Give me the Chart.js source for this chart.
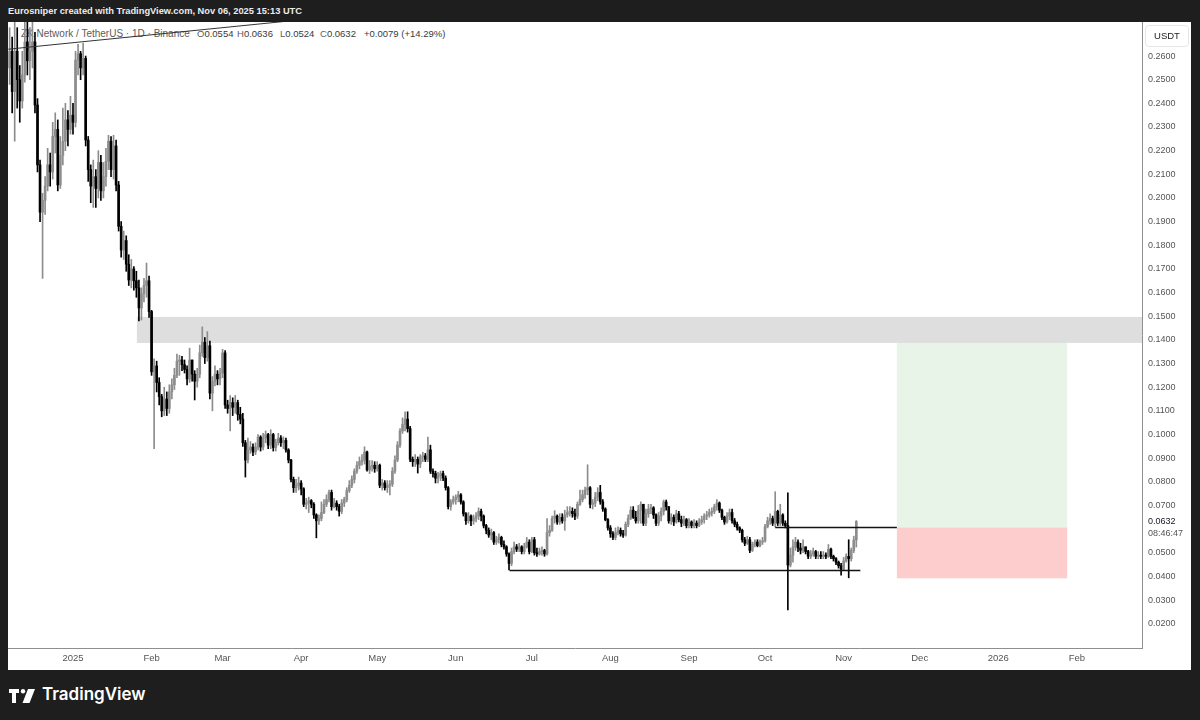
<!DOCTYPE html>
<html>
<head>
<meta charset="utf-8">
<script src="https://cdn.jsdelivr.net/npm/chart.js@4.4.1/dist/chart.umd.min.js"></script>
<style>
  html, body { margin: 0; padding: 0; width: 1200px; height: 720px; overflow: hidden; background: #1e1e1e; font-family: "Liberation Sans", Arial, sans-serif; }
  #header { position: absolute; left: 8px; top: 6px; color: #ececec; font-size: 9.3px; font-weight: bold; white-space: nowrap; }
  #panel { position: absolute; left: 8px; top: 22px; width: 1183px; height: 648px; background: #fff; }
  #panel canvas { position: absolute; left: 0; top: 0; }
  .legend { position: absolute; top: 6px; font-size: 9.5px; color: #5d5d5d; white-space: nowrap; }
  .legend b { font-weight: normal; color: #3a3a3a; }
  #unit { position: absolute; left: 1137px; top: 3px; width: 42px; height: 20px; border: 1px solid #e6e6e6; border-radius: 4px; font-size: 9.5px; color: #222; text-align: center; line-height: 20px; }
  .last { position: absolute; left: 1140px; font-size: 9px; white-space: nowrap; }
  #footer { position: absolute; left: 42px; top: 684px; color: #fff; font-family: Inter, sans-serif; font-weight: 600; font-size: 17px; }
  #logo { position: absolute; left: 9px; top: 689px; }
</style>
</head>
<body>
<div id="header">Eurosniper created with TradingView.com, Nov 06, 2025 15:13 UTC</div>
<div id="panel">
  <div class="legend" style="left:13px;font-size:10px">ZK Network / TetherUS · 1D · Binance</div>
  <div class="legend" style="left:189px">O<b>0.0554</b></div>
  <div class="legend" style="left:229px">H<b>0.0636</b></div>
  <div class="legend" style="left:272px">L<b>0.0524</b></div>
  <div class="legend" style="left:312px">C<b>0.0632</b></div>
  <div class="legend" style="left:356px"><b>+0.0079 (+14.29%)</b></div>
  <canvas id="chart" width="1183" height="648"></canvas>
  <div id="unit">USDT</div>
  <div class="last" style="top:494px;color:#131722">0.0632</div>
  <div class="last" style="top:506px;color:#555">08:46:47</div>
</div>
<svg id="logo" width="26" height="14" viewBox="0 0 26 14">
  <path d="M0 0h10v4H7v10H3V4H0z" fill="#fff"/>
  <circle cx="14" cy="2.2" r="2.2" fill="#fff"/>
  <path d="M19 0h7l-5.5 14h-7z" fill="#fff"/>
</svg>
<div id="footer">TradingView</div>

<script>
// day index: 0 = 1 Jan 2025, one candle per day, first candle 7 Dec 2024
var firstDay = -25;
var firstOpen = 0.255;

var closes = [
  0.262, 0.245, 0.262, 0.250, 0.241, 0.252, 0.266, 0.258, 0.262, 0.266,
  0.2393, 0.214, 0.194, 0.199, 0.205, 0.214, 0.211, 0.226, 0.229, 0.2055,
  0.218, 0.224, 0.233, 0.229, 0.235, 0.232, 0.2583, 0.261, 0.255, 0.259,
  0.2245, 0.212, 0.205, 0.209, 0.204, 0.215, 0.203, 0.209, 0.2155, 0.224,
  0.212, 0.222, 0.2055, 0.188, 0.178, 0.182, 0.172, 0.1653, 0.170, 0.165,
  0.162, 0.1535, 0.1595, 0.163, 0.165, 0.152, 0.1265, 0.129, 0.122, 0.116,
  0.110, 0.115, 0.111, 0.118, 0.121, 0.125, 0.131, 0.1315, 0.1295, 0.1275,
  0.1235, 0.1315, 0.1255, 0.1225, 0.1255, 0.1345, 0.139, 0.1325, 0.1375, 0.1175,
  0.1225, 0.1255, 0.1235, 0.126, 0.1345, 0.1125, 0.111, 0.1135, 0.1115, 0.1135,
  0.1085, 0.1065, 0.0965, 0.0892, 0.0935, 0.0947, 0.0926, 0.0947, 0.0989, 0.0947,
  0.0985, 0.100, 0.0955, 0.100, 0.0945, 0.0965, 0.0985, 0.0965, 0.0975, 0.0935,
  0.0892, 0.081, 0.0775, 0.0785, 0.0795, 0.077, 0.0705, 0.071, 0.072, 0.0705,
  0.066, 0.0635, 0.0645, 0.067, 0.0705, 0.0725, 0.0755, 0.0695, 0.071, 0.0695,
  0.0675, 0.071, 0.0725, 0.0763, 0.0785, 0.081, 0.0845, 0.087, 0.0885, 0.0892,
  0.0926, 0.085, 0.0865, 0.087, 0.0855, 0.087, 0.0785, 0.0795, 0.0775, 0.0785,
  0.079, 0.0845, 0.0892, 0.0955, 0.1015, 0.1042, 0.1065, 0.1025, 0.0895, 0.0885,
  0.0895, 0.0875, 0.0905, 0.091, 0.0895, 0.0935, 0.0845, 0.0835, 0.0815, 0.0825,
  0.0835, 0.0815, 0.0775, 0.0695, 0.0715, 0.0725, 0.0735, 0.0745, 0.0715, 0.0665,
  0.0635, 0.0655, 0.0635, 0.0645, 0.0655, 0.0675, 0.0655, 0.0615, 0.0595, 0.0575,
  0.0585, 0.0545, 0.0555, 0.0565, 0.0535, 0.0525, 0.0495, 0.0455, 0.0505, 0.0525,
  0.0515, 0.0525, 0.0505, 0.0525, 0.0545, 0.0505, 0.0555, 0.050, 0.0495, 0.0505,
  0.051, 0.0495, 0.0585, 0.0595, 0.0645, 0.0655, 0.063, 0.065, 0.0635, 0.066,
  0.067, 0.0675, 0.0665, 0.0655, 0.0705, 0.0725, 0.0745, 0.0765, 0.0775, 0.0705,
  0.071, 0.0735, 0.0755, 0.0715, 0.0685, 0.064, 0.0605, 0.058, 0.0565, 0.0585,
  0.0595, 0.058, 0.0575, 0.062, 0.0645, 0.068, 0.065, 0.0635, 0.068, 0.0705,
  0.0625, 0.0665, 0.0685, 0.069, 0.066, 0.0625, 0.0655, 0.0675, 0.0715, 0.0695,
  0.0635, 0.065, 0.063, 0.0665, 0.064, 0.0625, 0.064, 0.0615, 0.063, 0.0615,
  0.0625, 0.0615, 0.063, 0.064, 0.0655, 0.066, 0.067, 0.0675, 0.0695, 0.071,
  0.068, 0.065, 0.063, 0.0655, 0.067, 0.0635, 0.062, 0.0605, 0.0595, 0.0555,
  0.054, 0.0555, 0.051, 0.0535, 0.0545, 0.053, 0.0545, 0.055, 0.061, 0.0635,
  0.0645, 0.0625, 0.0675, 0.0625, 0.066, 0.0625, 0.0615, 0.0448, 0.049, 0.0525,
  0.0545, 0.052, 0.051, 0.0525, 0.0505, 0.0485, 0.0495, 0.0505, 0.0485, 0.049,
  0.0485, 0.049, 0.0485, 0.0515, 0.0485, 0.0475, 0.046, 0.0445, 0.043, 0.0465,
  0.0485, 0.0475, 0.051, 0.0554, 0.0632
];

var highs = [
  0.272, 0.268, 0.275, 0.272, 0.256, 0.262, 0.276, 0.276, 0.272, 0.281,
  0.270, 0.242, 0.216, 0.202, 0.209, 0.221, 0.219, 0.232, 0.236, 0.233,
  0.226, 0.238, 0.240, 0.237, 0.243, 0.240, 0.262, 0.265, 0.262, 0.2655,
  0.260, 0.226, 0.214, 0.216, 0.212, 0.220, 0.218, 0.215, 0.221, 0.2265,
  0.226, 0.2265, 0.2245, 0.207, 0.190, 0.186, 0.184, 0.176, 0.174, 0.171,
  0.169, 0.1653, 0.162, 0.166, 0.1725, 0.167, 0.1525, 0.132, 0.131, 0.124,
  0.117, 0.120, 0.118, 0.121, 0.1235, 0.128, 0.134, 0.1335, 0.133, 0.1315,
  0.129, 0.1365, 0.1315, 0.127, 0.128, 0.1378, 0.1455, 0.141, 0.1435, 0.1395,
  0.1245, 0.129, 0.127, 0.128, 0.136, 0.1355, 0.1145, 0.1165, 0.1155, 0.1165,
  0.1145, 0.1115, 0.109, 0.0975, 0.0985, 0.097, 0.096, 0.0965, 0.100, 0.0995,
  0.1005, 0.1015, 0.1005, 0.102, 0.1005, 0.098, 0.1005, 0.0995, 0.099, 0.0985,
  0.094, 0.0895, 0.082, 0.081, 0.082, 0.0805, 0.0775, 0.073, 0.0735, 0.0725,
  0.0712, 0.0665, 0.066, 0.0715, 0.0725, 0.0745, 0.0765, 0.0765, 0.073, 0.072,
  0.0705, 0.0725, 0.0735, 0.0775, 0.0805, 0.0825, 0.0855, 0.0885, 0.0905, 0.0915,
  0.0948, 0.093, 0.089, 0.089, 0.0885, 0.0885, 0.0875, 0.081, 0.0805, 0.0805,
  0.0805, 0.086, 0.091, 0.097, 0.1025, 0.107, 0.1096, 0.1096, 0.1035, 0.0905,
  0.0915, 0.0905, 0.0915, 0.0925, 0.092, 0.0989, 0.0955, 0.0855, 0.0845, 0.084,
  0.0845, 0.0845, 0.0825, 0.078, 0.0725, 0.074, 0.0745, 0.076, 0.075, 0.072,
  0.067, 0.067, 0.066, 0.066, 0.067, 0.069, 0.0685, 0.066, 0.062, 0.0605,
  0.060, 0.059, 0.057, 0.058, 0.057, 0.055, 0.053, 0.050, 0.052, 0.0545,
  0.0535, 0.054, 0.053, 0.054, 0.0565, 0.0555, 0.0565, 0.0565, 0.052, 0.052,
  0.0525, 0.0515, 0.0645, 0.0615, 0.0655, 0.0678, 0.066, 0.0665, 0.0665, 0.068,
  0.0695, 0.0695, 0.069, 0.0685, 0.0715, 0.0765, 0.0765, 0.0778, 0.0872, 0.078,
  0.0725, 0.0755, 0.0775, 0.0785, 0.0725, 0.069, 0.0645, 0.0615, 0.059, 0.0605,
  0.061, 0.0605, 0.0595, 0.063, 0.066, 0.0695, 0.0695, 0.0675, 0.070, 0.0715,
  0.0705, 0.0685, 0.0705, 0.0705, 0.0695, 0.0665, 0.067, 0.069, 0.0723, 0.0723,
  0.0695, 0.0665, 0.066, 0.068, 0.0675, 0.0655, 0.0655, 0.0645, 0.0645, 0.0635,
  0.064, 0.0635, 0.0645, 0.0655, 0.0665, 0.0675, 0.0685, 0.069, 0.0705, 0.0725,
  0.0715, 0.0685, 0.0655, 0.067, 0.0685, 0.0685, 0.0645, 0.063, 0.061, 0.060,
  0.0565, 0.057, 0.0565, 0.0545, 0.0555, 0.0555, 0.0555, 0.0565, 0.062, 0.065,
  0.0665, 0.0655, 0.0758, 0.068, 0.0705, 0.0665, 0.0635, 0.0753, 0.052, 0.0555,
  0.0565, 0.0555, 0.054, 0.0555, 0.0525, 0.051, 0.051, 0.052, 0.051, 0.0505,
  0.0505, 0.0505, 0.050, 0.0535, 0.052, 0.049, 0.048, 0.0465, 0.0455, 0.048,
  0.0495, 0.0555, 0.052, 0.057, 0.0636
];

var lows = [
  0.248, 0.236, 0.224, 0.238, 0.232, 0.238, 0.249, 0.252, 0.250, 0.255,
  0.236, 0.211, 0.190, 0.166, 0.193, 0.203, 0.205, 0.208, 0.219, 0.203,
  0.204, 0.214, 0.220, 0.222, 0.227, 0.227, 0.230, 0.252, 0.250, 0.252,
  0.222, 0.207, 0.198, 0.196, 0.196, 0.200, 0.199, 0.200, 0.205, 0.212,
  0.209, 0.208, 0.203, 0.186, 0.175, 0.174, 0.169, 0.163, 0.162, 0.161,
  0.158, 0.148, 0.1484, 0.156, 0.158, 0.1495, 0.125, 0.094, 0.118, 0.1125,
  0.1075, 0.108, 0.108, 0.109, 0.115, 0.119, 0.124, 0.125, 0.127, 0.126,
  0.121, 0.122, 0.1225, 0.1146, 0.120, 0.124, 0.133, 0.130, 0.131, 0.115,
  0.110, 0.1205, 0.121, 0.121, 0.124, 0.111, 0.109, 0.1015, 0.108, 0.109,
  0.106, 0.1045, 0.095, 0.082, 0.088, 0.092, 0.091, 0.0915, 0.0935, 0.093,
  0.0935, 0.0965, 0.094, 0.094, 0.093, 0.093, 0.0955, 0.095, 0.094, 0.0925,
  0.088, 0.080, 0.0755, 0.0755, 0.0765, 0.0745, 0.0695, 0.0685, 0.067, 0.069,
  0.0645, 0.0563, 0.062, 0.0635, 0.0665, 0.0695, 0.0715, 0.068, 0.069, 0.068,
  0.0655, 0.0665, 0.0695, 0.0715, 0.0755, 0.0775, 0.0795, 0.0835, 0.0855, 0.087,
  0.0875, 0.0845, 0.0835, 0.0845, 0.084, 0.0845, 0.0775, 0.0765, 0.0765, 0.0755,
  0.0745, 0.078, 0.0835, 0.0885, 0.0945, 0.1005, 0.1015, 0.101, 0.0885, 0.0865,
  0.0865, 0.0837, 0.086, 0.0885, 0.0885, 0.0885, 0.0835, 0.082, 0.0795, 0.0795,
  0.0805, 0.0805, 0.0765, 0.0685, 0.068, 0.0705, 0.0705, 0.0715, 0.0705, 0.0655,
  0.062, 0.0625, 0.0615, 0.062, 0.063, 0.064, 0.0635, 0.0605, 0.058, 0.0565,
  0.0555, 0.0535, 0.0535, 0.054, 0.0525, 0.0515, 0.0485, 0.0427, 0.0445, 0.0495,
  0.0505, 0.0505, 0.0495, 0.0495, 0.052, 0.0495, 0.050, 0.049, 0.0485, 0.049,
  0.049, 0.0485, 0.049, 0.057, 0.059, 0.0625, 0.062, 0.062, 0.0625, 0.0595,
  0.065, 0.0655, 0.065, 0.064, 0.0645, 0.070, 0.0715, 0.073, 0.0745, 0.069,
  0.0685, 0.0695, 0.072, 0.0705, 0.0675, 0.0635, 0.0595, 0.0565, 0.0555, 0.0555,
  0.0575, 0.057, 0.0565, 0.057, 0.061, 0.064, 0.0645, 0.0625, 0.0625, 0.0625,
  0.0615, 0.0615, 0.065, 0.0665, 0.0645, 0.0615, 0.0615, 0.0635, 0.066, 0.068,
  0.0625, 0.062, 0.0615, 0.0625, 0.063, 0.061, 0.0615, 0.0605, 0.0605, 0.0605,
  0.0605, 0.0605, 0.061, 0.062, 0.0625, 0.064, 0.065, 0.0655, 0.0665, 0.068,
  0.067, 0.064, 0.062, 0.0625, 0.064, 0.0625, 0.061, 0.0595, 0.0585, 0.0545,
  0.053, 0.0535, 0.050, 0.0505, 0.0525, 0.0525, 0.0525, 0.0535, 0.0545, 0.0605,
  0.062, 0.0615, 0.061, 0.0615, 0.0615, 0.0615, 0.0605, 0.0258, 0.044, 0.046,
  0.051, 0.0505, 0.0495, 0.050, 0.0495, 0.0475, 0.0475, 0.0485, 0.0475, 0.0475,
  0.0475, 0.0475, 0.0475, 0.048, 0.0475, 0.0465, 0.045, 0.0435, 0.0405, 0.0425,
  0.046, 0.0394, 0.0465, 0.050, 0.0524
];

var monthTickDays = [0, 31, 59, 90, 120, 151, 181, 212, 243, 273, 304, 334, 365, 396];
var monthTickLabels = ["2025", "Feb", "Mar", "Apr", "May", "Jun", "Jul", "Aug", "Sep", "Oct", "Nov", "Dec", "2026", "Feb"];
var priceTicks = [0.02, 0.03, 0.04, 0.05, 0.07, 0.08, 0.09, 0.10, 0.11, 0.12, 0.13, 0.14, 0.15,
                  0.16, 0.17, 0.18, 0.19, 0.20, 0.21, 0.22, 0.23, 0.24, 0.25, 0.26];

// drawings, in (day, price)
var supplyZone = [25.2, 0.1387, 0.1497];                 // start day, bottom, top
var longPosition = [325, 392.2, 0.0607, 0.1387, 0.0392]; // start, end, entry, target, stop
var entryLine = [277, 325, 0.0607];
var supportLine = [172.2, 310.6, 0.0427];
var trendLine = [-25.5, 0.2629, 86.8, 0.2750];

var upColor = "#8d8d8d";
var downColor = "#000000";

var bodies = [];
var wicks = [];
var colors = [];
closes.forEach(function (c, i) {
  var o = i === 0 ? firstOpen : closes[i - 1];
  var d = firstDay + i;
  bodies.push({ x: d, y: [o, c] });
  wicks.push({ x: d, y: [Math.min(lows[i], o, c), Math.max(highs[i], o, c)] });
  colors.push(c >= o ? upColor : downColor);
});

var drawings = {
  id: "drawings",
  beforeDatasetsDraw: function (chart) {
    var ctx = chart.ctx;
    var xs = chart.scales.x;
    var ys = chart.scales.y;
    var area = chart.chartArea;
    ctx.save();
    // grey zone, extended right
    var zx = xs.getPixelForValue(supplyZone[0]);
    ctx.fillStyle = "#dedede";
    ctx.fillRect(zx, ys.getPixelForValue(supplyZone[2]), area.right - zx,
      ys.getPixelForValue(supplyZone[1]) - ys.getPixelForValue(supplyZone[2]));
    // long position box
    var lx = xs.getPixelForValue(longPosition[0]);
    var lw = xs.getPixelForValue(longPosition[1]) - lx;
    var entryY = ys.getPixelForValue(longPosition[2]);
    var targetY = ys.getPixelForValue(longPosition[3]);
    var stopY = ys.getPixelForValue(longPosition[4]);
    ctx.fillStyle = "#e7f4e7";
    ctx.fillRect(lx, targetY, lw, entryY - targetY);
    ctx.fillStyle = "#fdcdcd";
    ctx.fillRect(lx, entryY, lw, stopY - entryY);
    ctx.restore();
  },
  afterDatasetsDraw: function (chart) {
    var ctx = chart.ctx;
    var xs = chart.scales.x;
    var ys = chart.scales.y;
    var area = chart.chartArea;
    ctx.save();
    ctx.beginPath();
    ctx.rect(area.left, area.top, area.right - area.left, area.bottom - area.top);
    ctx.clip();
    ctx.strokeStyle = "#131313";
    ctx.lineWidth = 1.5;
    [entryLine, supportLine].forEach(function (l) {
      var y = Math.round(ys.getPixelForValue(l[2])) + 0.5;
      ctx.beginPath();
      ctx.moveTo(xs.getPixelForValue(l[0]), y);
      ctx.lineTo(xs.getPixelForValue(l[1]), y);
      ctx.stroke();
    });
    ctx.lineWidth = 1;
    ctx.strokeStyle = "#333";
    ctx.beginPath();
    ctx.moveTo(xs.getPixelForValue(trendLine[0]), ys.getPixelForValue(trendLine[1]));
    ctx.lineTo(xs.getPixelForValue(trendLine[2]), ys.getPixelForValue(trendLine[3]));
    ctx.stroke();
    ctx.restore();
  }
};

var chart = new Chart(document.getElementById("chart"), {
  type: "bar",
  data: {
    datasets: [
      { data: bodies, backgroundColor: colors, barThickness: 2, grouped: false, minBarLength: 1 },
      { data: wicks, backgroundColor: colors, barThickness: 1, grouped: false }
    ]
  },
  options: {
    responsive: false,
    animation: false,
    devicePixelRatio: 1,
    layout: { padding: 0 },
    plugins: { legend: { display: false }, tooltip: { enabled: false } },
    scales: {
      x: {
        type: "linear",
        min: -25.64,
        max: 421.7,
        offset: false,
        grid: { display: false, drawTicks: false },
        border: { display: true, color: "#8f8f8f" },
        afterBuildTicks: function (scale) {
          scale.ticks = monthTickDays.map(function (v) { return { value: v }; });
        },
        afterFit: function (scale) {
          scale.height = 22;
          scale.paddingLeft = 0;
          scale.paddingRight = 0;
        },
        ticks: {
          autoSkip: false,
          maxRotation: 0,
          padding: 5,
          color: "#555",
          font: { family: "Liberation Sans", size: 9.5 },
          callback: function (value, index) { return monthTickLabels[index]; }
        }
      },
      y: {
        position: "right",
        min: 0.00973,
        max: 0.2744,
        grid: { display: false, drawTicks: false },
        border: { display: true, color: "#8f8f8f" },
        afterBuildTicks: function (scale) {
          scale.ticks = priceTicks.map(function (v) { return { value: v }; });
        },
        afterFit: function (scale) {
          scale.width = 49;
          scale.paddingTop = 0;
          scale.paddingBottom = 0;
        },
        ticks: {
          padding: 6,
          color: "#555",
          font: { family: "Liberation Sans", size: 9 },
          callback: function (value) { return value.toFixed(4); }
        }
      }
    }
  },
  plugins: [drawings]
});
</script>
</body>
</html>
